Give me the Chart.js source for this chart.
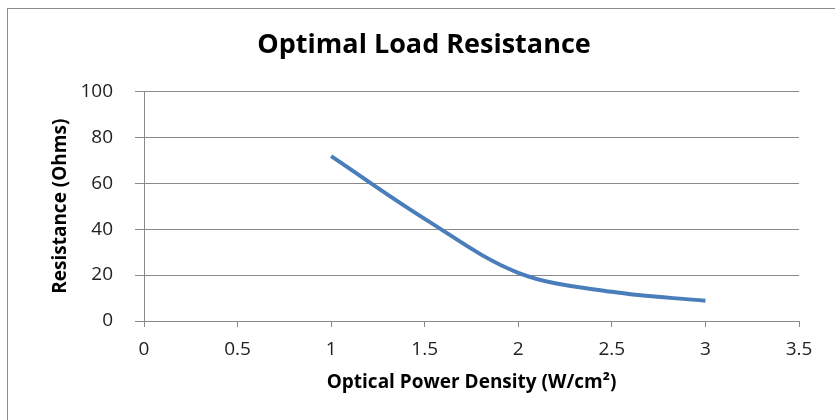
<!DOCTYPE html>
<html>
<head>
<meta charset="utf-8">
<title>Optimal Load Resistance</title>
<script src="https://cdn.jsdelivr.net/npm/chart.js@4"></script>
<style>
  html, body { margin: 0; padding: 0; background: #fff; }
  canvas { display: block; }
</style>
</head>
<body>
<canvas id="chart" width="835" height="420"></canvas>
<script>
// values
const powerDensity = [1, 1.5, 2, 2.5, 3];          // W/cm²
const resistance = [71.8, 44.5, 21, 12.7, 8.8];    // Ohms
const xTicks = [0, 0.5, 1, 1.5, 2, 2.5, 3, 3.5];
const yTicks = [0, 20, 40, 60, 80, 100];

const gridGray = "#898989";
const font = "'Open Sans', 'DejaVu Sans', sans-serif";

// thin frame around the whole chart, like the spreadsheet chart border
const framePlugin = {
  id: "frame",
  beforeDraw(chart) {
    const ctx = chart.ctx;
    ctx.save();
    ctx.fillStyle = "#fff";
    ctx.fillRect(0, 0, chart.width, chart.height);
    ctx.strokeStyle = "#8c8c8c";
    ctx.lineWidth = 1;
    ctx.strokeRect(7.5, 8.5, chart.width + 20, chart.height + 20);
    ctx.restore();
  }
};

const ctx = document.getElementById("chart").getContext("2d");

new Chart(ctx, {
  type: "line",
  data: {
    datasets: [{
      label: "Optimal Load Resistance",
      data: powerDensity.map((x, i) => ({ x: x, y: resistance[i] })),
      borderColor: "#4a7ebb",
      borderWidth: 4,
      pointRadius: 0,
      fill: false,
      tension: 0.35
    }]
  },
  plugins: [framePlugin],
  options: {
    responsive: false,
    animation: false,
    devicePixelRatio: 1,
    layout: {
      padding: { left: 49, right: 36, top: 0, bottom: 22 }
    },
    plugins: {
      legend: { display: false },
      tooltip: { enabled: false },
      title: {
        display: true,
        text: "Optimal Load Resistance",
        color: "#000",
        font: { family: font, size: 27, weight: "bold", lineHeight: 1.2 },
        padding: { top: 29, bottom: 30 }
      }
    },
    scales: {
      x: {
        type: "linear",
        min: 0,
        max: 3.5,
        afterBuildTicks: (scale) => {
          scale.ticks = xTicks.map(v => ({ value: v }));
        },
        afterFit: (scale) => {
          scale.height = 77;
        },
        ticks: {
          color: "#222",
          font: { family: font, size: 19 },
          padding: 11,
          maxRotation: 0,
          callback: (v) => String(v)
        },
        grid: {
          drawOnChartArea: false,
          drawTicks: true,
          tickLength: 6,
          color: gridGray
        },
        border: { color: gridGray },
        title: {
          display: true,
          text: "Optical Power Density (W/cm²)",
          color: "#000",
          font: { family: font, size: 19, weight: "bold", lineHeight: 1.2 },
          padding: { top: 14, bottom: 4 }
        }
      },
      y: {
        min: 0,
        max: 100,
        afterBuildTicks: (scale) => {
          scale.ticks = yTicks.map(v => ({ value: v }));
        },
        afterFit: (scale) => {
          scale.width = 95;
        },
        ticks: {
          color: "#222",
          font: { family: font, size: 19 },
          padding: 22
        },
        grid: {
          color: gridGray,
          tickLength: 9
        },
        border: { color: gridGray },
        title: {
          display: true,
          text: "Resistance (Ohms)",
          color: "#000",
          font: { family: font, size: 19, weight: "bold", lineHeight: 1.2 },
          padding: 0
        }
      }
    }
  }
});
</script>
</body>
</html>
